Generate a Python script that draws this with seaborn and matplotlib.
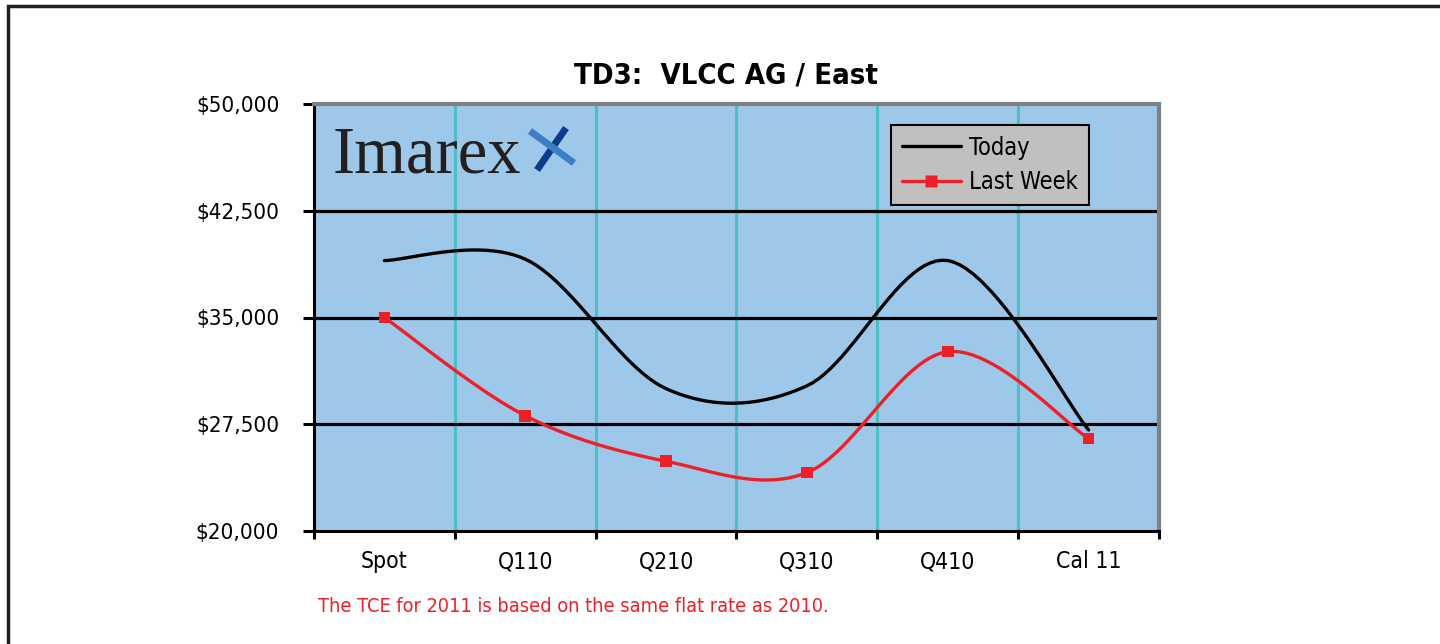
import numpy as np
import pandas as pd
import matplotlib.pyplot as plt
import seaborn as sns
from matplotlib.lines import Line2D
from matplotlib.patches import Rectangle
from matplotlib.ticker import FuncFormatter, FixedLocator

periods = ["Spot", "Q110", "Q210", "Q310", "Q410", "Cal 11"]
today = [39000, 39100, 30000, 30200, 39000, 27100]
last_week = [35000, 28100, 24900, 24100, 32600, 26500]
y_ticks = [20000, 27500, 35000, 42500, 50000]

RED = "#EE2027"
BLUE_BG = "#9EC8EA"
TEAL = "#4DBFC4"


def excel_smooth(vals, n=25):
    # bezier "smoothed line" like excel draws it
    p = np.asarray(vals, float)
    x = np.arange(len(p), dtype=float)
    py = np.r_[p[0], p, p[-1]]
    px = np.r_[x[0], x, x[-1]]
    t = np.linspace(0, 1, n)[:, None]
    out = []
    for i in range(len(p) - 1):
        P0 = np.array([px[i + 1], py[i + 1]])
        P3 = np.array([px[i + 2], py[i + 2]])
        C1 = P0 + (P3 - np.array([px[i], py[i]])) / 6
        C2 = P3 - (np.array([px[i + 3], py[i + 3]]) - P0) / 6
        seg = (1 - t) ** 3 * P0 + 3 * (1 - t) ** 2 * t * C1 + 3 * (1 - t) * t ** 2 * C2 + t ** 3 * P3
        out.append(seg if i == len(p) - 2 else seg[:-1])
    return np.vstack(out)


sns.set_style("white")
plt.rcParams['font.family'] = ['DejaVu Sans']
plt.rcParams['font.stretch'] = 'condensed'
plt.rcParams['text.color'] = 'black'
plt.rcParams['xtick.color'] = 'black'
plt.rcParams['ytick.color'] = 'black'

fig = plt.figure(figsize=(14.4, 6.44), dpi=100)
ax = fig.add_axes([314 / 1440, 1 - 531 / 644, 845 / 1440, 427 / 644])
ax.set_facecolor(BLUE_BG)

frames = []
for name, vals in [("Today", today), ("Last Week", last_week)]:
    sm = excel_smooth(vals)
    frames.append(pd.DataFrame({"x": sm[:, 0], "value": sm[:, 1], "series": name}))
df = pd.concat(frames, ignore_index=True)

sns.lineplot(data=df, x="x", y="value", hue="series", palette={"Today": "black", "Last Week": RED},
             estimator=None, sort=False, linewidth=2.4, legend=False, ax=ax, zorder=4)
sns.scatterplot(x=np.arange(len(periods)), y=last_week, marker="s", color=RED, s=70,
                edgecolor="none", ax=ax, zorder=5)

ax.set_xlim(-0.5, len(periods) - 0.5)
ax.set_ylim(20000, 50000)
ax.set_xlabel("")
ax.set_ylabel("")

# category boundaries as major ticks, labels on minor ticks
ax.xaxis.set_major_locator(FixedLocator(np.arange(-0.5, len(periods), 1.0)))
ax.xaxis.set_minor_locator(FixedLocator(np.arange(len(periods))))
ax.set_xticklabels([], minor=False)
ax.set_xticklabels(periods, minor=True)
ax.tick_params(axis="x", which="major", bottom=True, direction="inout", length=11, width=2.2)
ax.tick_params(axis="x", which="minor", bottom=True, length=0, pad=14, labelsize=16.5)

ax.set_yticks(y_ticks)
ax.yaxis.set_major_formatter(FuncFormatter(lambda v, p: f"${v:,.0f}"))
ax.tick_params(axis="y", left=True, direction="out", length=8, width=2.2, pad=17, labelsize=16)

for xb in np.arange(0.5, len(periods) - 1, 1.0):
    ax.axvline(xb, color=TEAL, lw=2.2, zorder=1)
for yv in y_ticks[1:-1]:
    ax.axhline(yv, color="black", lw=2.3, zorder=2)

for s in ["left", "bottom"]:
    ax.spines[s].set_color("black")
    ax.spines[s].set_linewidth(2.2)
for s in ["top", "right"]:
    ax.spines[s].set_color("#808080")
    ax.spines[s].set_linewidth(3)

handles = [Line2D([], [], color="black", lw=2.4),
           Line2D([], [], color=RED, lw=2.4, marker="s", markersize=8.5, markeredgecolor="none")]
leg = ax.legend(handles, ["Today", "Last Week"], loc="upper left", bbox_to_anchor=(0.683, 0.951),
                fontsize=17, frameon=True, fancybox=False, framealpha=1, facecolor="#C0C0C0",
                edgecolor="black", handlelength=2.5, handletextpad=0.35, borderpad=0.45,
                labelspacing=0.45, borderaxespad=0)
leg.get_frame().set_linewidth(1.5)
leg.set_zorder(6)

# logo
fig.text(333 / 1440, 1 - 156 / 644, "Imarex", family=["Liberation Serif", "DejaVu Serif"],
         fontstretch="normal", fontsize=48, color="#231F20", va="center", ha="left")
fig.add_artist(Line2D([566 / 1440, 537 / 1440], [1 - 128 / 644, 1 - 170 / 644],
                      color="#0B3D8C", lw=5, solid_capstyle="butt"))
fig.add_artist(Line2D([530 / 1440, 574 / 1440], [1 - 131 / 644, 1 - 163 / 644],
                      color="#3C7FC4", lw=5, solid_capstyle="butt"))

fig.text(726 / 1440, 1 - 75 / 644, "TD3:  VLCC AG / East", fontsize=21, fontweight="bold",
         ha="center", va="center")
fig.text(318 / 1440, 1 - 607 / 644, "The TCE for 2011 is based on the same flat rate as 2010.",
         fontsize=14.3, color=RED, ha="left", va="center")

fig.add_artist(Rectangle((8 / 1440, -0.2), 1.2, 1.2 - 6 / 644, transform=fig.transFigure,
                         fill=False, edgecolor="#231F20", lw=2.5, clip_on=False))

fig.savefig("out.png", dpi=100)
